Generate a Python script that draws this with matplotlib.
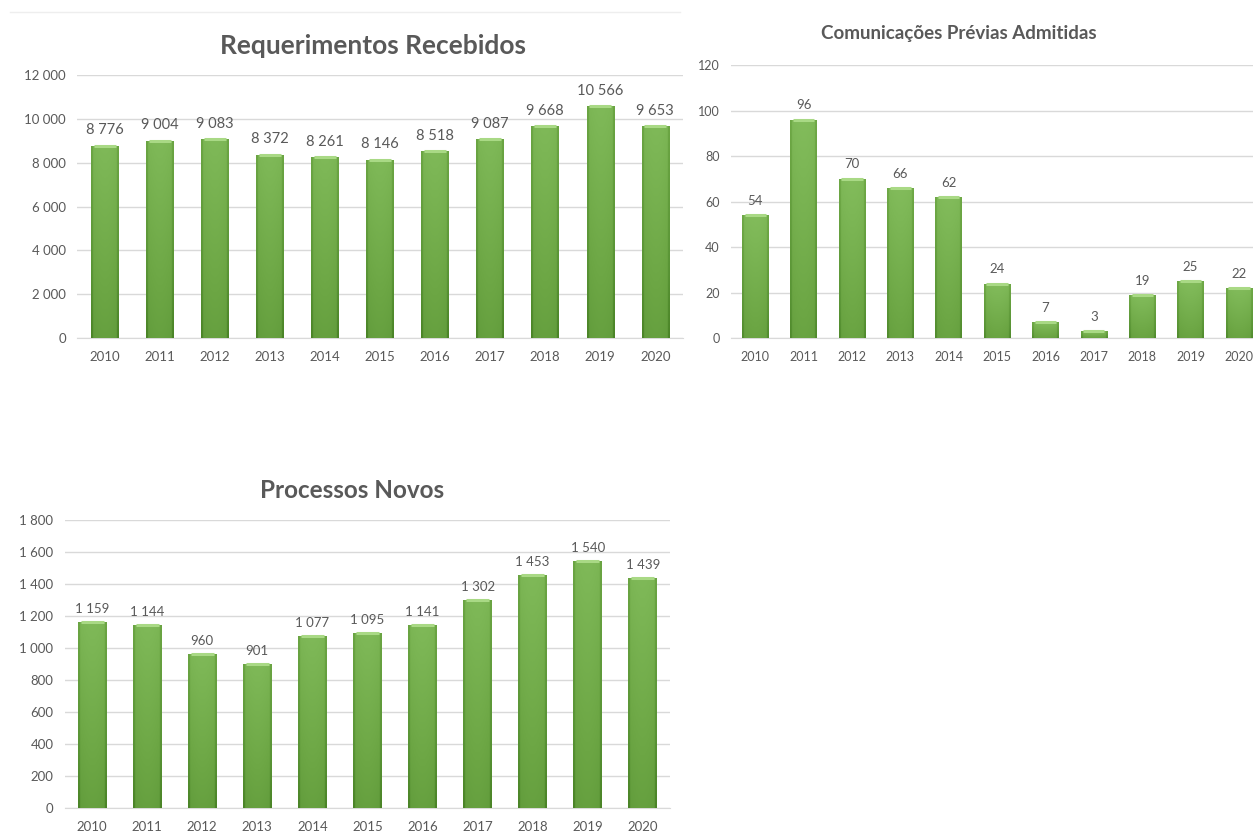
import numpy as np
import matplotlib.pyplot as plt
from matplotlib.colors import LinearSegmentedColormap

plt.rcParams['font.family'] = ['Lato', 'DejaVu Sans']

# Data
years = ['2010', '2011', '2012', '2013', '2014', '2015', '2016', '2017', '2018', '2019', '2020']
requerimentos = [8776, 9004, 9083, 8372, 8261, 8146, 8518, 9087, 9668, 10566, 9653]
comunicacoes = [54, 96, 70, 66, 62, 24, 7, 3, 19, 25, 22]
processos = [1159, 1144, 960, 901, 1077, 1095, 1141, 1302, 1453, 1540, 1439]

TEXT = '#595959'
GRID = '#d9d9d9'

green_cmap = LinearSegmentedColormap.from_list(
    'bar_green', ['#3c7419', '#5a9536', '#6ca644', '#7db756', '#8dc566'])


def fmt(v):
    # thousands separated by a space, like the Portuguese Excel charts
    return f'{v:,}'.replace(',', ' ')


def gradient_bars(ax, values, width, label_pad, fontsize, lift=0.0):
    x = np.arange(len(values))
    bars = ax.bar(x, values, width=width, color='#6ca644', edgecolor='none', zorder=2)
    # mostly flat green, darker toward the bottom and at the sides
    ny, nx = 64, 40
    vert = np.linspace(0.78, 0.42, ny)[:, None]
    edge = np.abs(np.linspace(-1, 1, nx))[None, :]
    side = np.where(edge > 0.86, 0.22, 0.0) + 0.08 * edge ** 2
    grad = np.clip(vert - side + lift, 0, 1)
    for b in bars:
        x0, w, h = b.get_x(), b.get_width(), b.get_height()
        im = ax.imshow(grad, cmap=green_cmap, vmin=0, vmax=1, aspect='auto',
                       extent=(x0, x0 + w, 0, h), zorder=3, interpolation='bilinear')
        im.set_clip_path(b)
        # light bevel at the top of each bar
        ax.plot([x0 + w * 0.1, x0 + w * 0.9], [h, h], color='#a9d985',
                lw=2.2, zorder=4, solid_capstyle='butt')
    for xi, v in zip(x, values):
        ax.annotate(fmt(v), (xi, v), xytext=(0, label_pad), textcoords='offset points',
                    ha='center', va='bottom', fontsize=fontsize, color=TEXT)
    return x


def style_axis(ax, ymax, step, tick_size):
    ax.set_ylim(0, ymax)
    ticks = np.arange(0, ymax + step, step)
    ax.set_yticks(ticks)
    ax.set_yticklabels([fmt(int(t)) for t in ticks])
    ax.set_xticks(np.arange(len(years)))
    ax.set_xticklabels(years)
    ax.grid(axis='y', color=GRID, lw=1, zorder=0)
    ax.set_axisbelow(True)
    for s in ['top', 'right', 'left']:
        ax.spines[s].set_visible(False)
    ax.spines['bottom'].set_color(GRID)
    ax.tick_params(axis='both', length=0, colors=TEXT, labelsize=tick_size)
    ax.tick_params(axis='x', pad=9)
    ax.tick_params(axis='y', pad=8)


fig = plt.figure(figsize=(12.53, 8.33), dpi=100)

# Requerimentos Recebidos
ax1 = fig.add_axes([0.0615, 0.594, 0.4835, 0.316])
gradient_bars(ax1, requerimentos, 0.5, 6, 10.5)
ax1.set_xlim(-0.5, 10.5)
style_axis(ax1, 12000, 2000, 9.5)
ax1.set_title('Requerimentos Recebidos', color=TEXT, fontsize=19,
              fontweight='bold', pad=15, x=0.488)

# Comunicações Prévias Admitidas
ax2 = fig.add_axes([0.5834, 0.594, 0.4166, 0.328])
gradient_bars(ax2, comunicacoes, 0.55, 6, 9.5, lift=0.05)
ax2.set_xlim(-0.5, 10.29)
style_axis(ax2, 120, 20, 9)
ax2.set_title('Comunicações Prévias Admitidas', color=TEXT, fontsize=13.5,
              fontweight='bold', pad=19, x=0.436)

# Processos Novos
ax3 = fig.add_axes([0.0515, 0.030, 0.4835, 0.346])
gradient_bars(ax3, processos, 0.52, 5, 9.5)
ax3.set_xlim(-0.5, 10.5)
style_axis(ax3, 1800, 200, 9.5)
ax3.set_title('Processos Novos', color=TEXT, fontsize=17.5,
              fontweight='bold', pad=16, x=0.475)

# faint frame line at the top of the first chart
fig.add_artist(plt.Line2D([0.008, 0.543], [0.986, 0.986], color='#eeeeee', lw=1))

fig.savefig('out.png', dpi=100)
